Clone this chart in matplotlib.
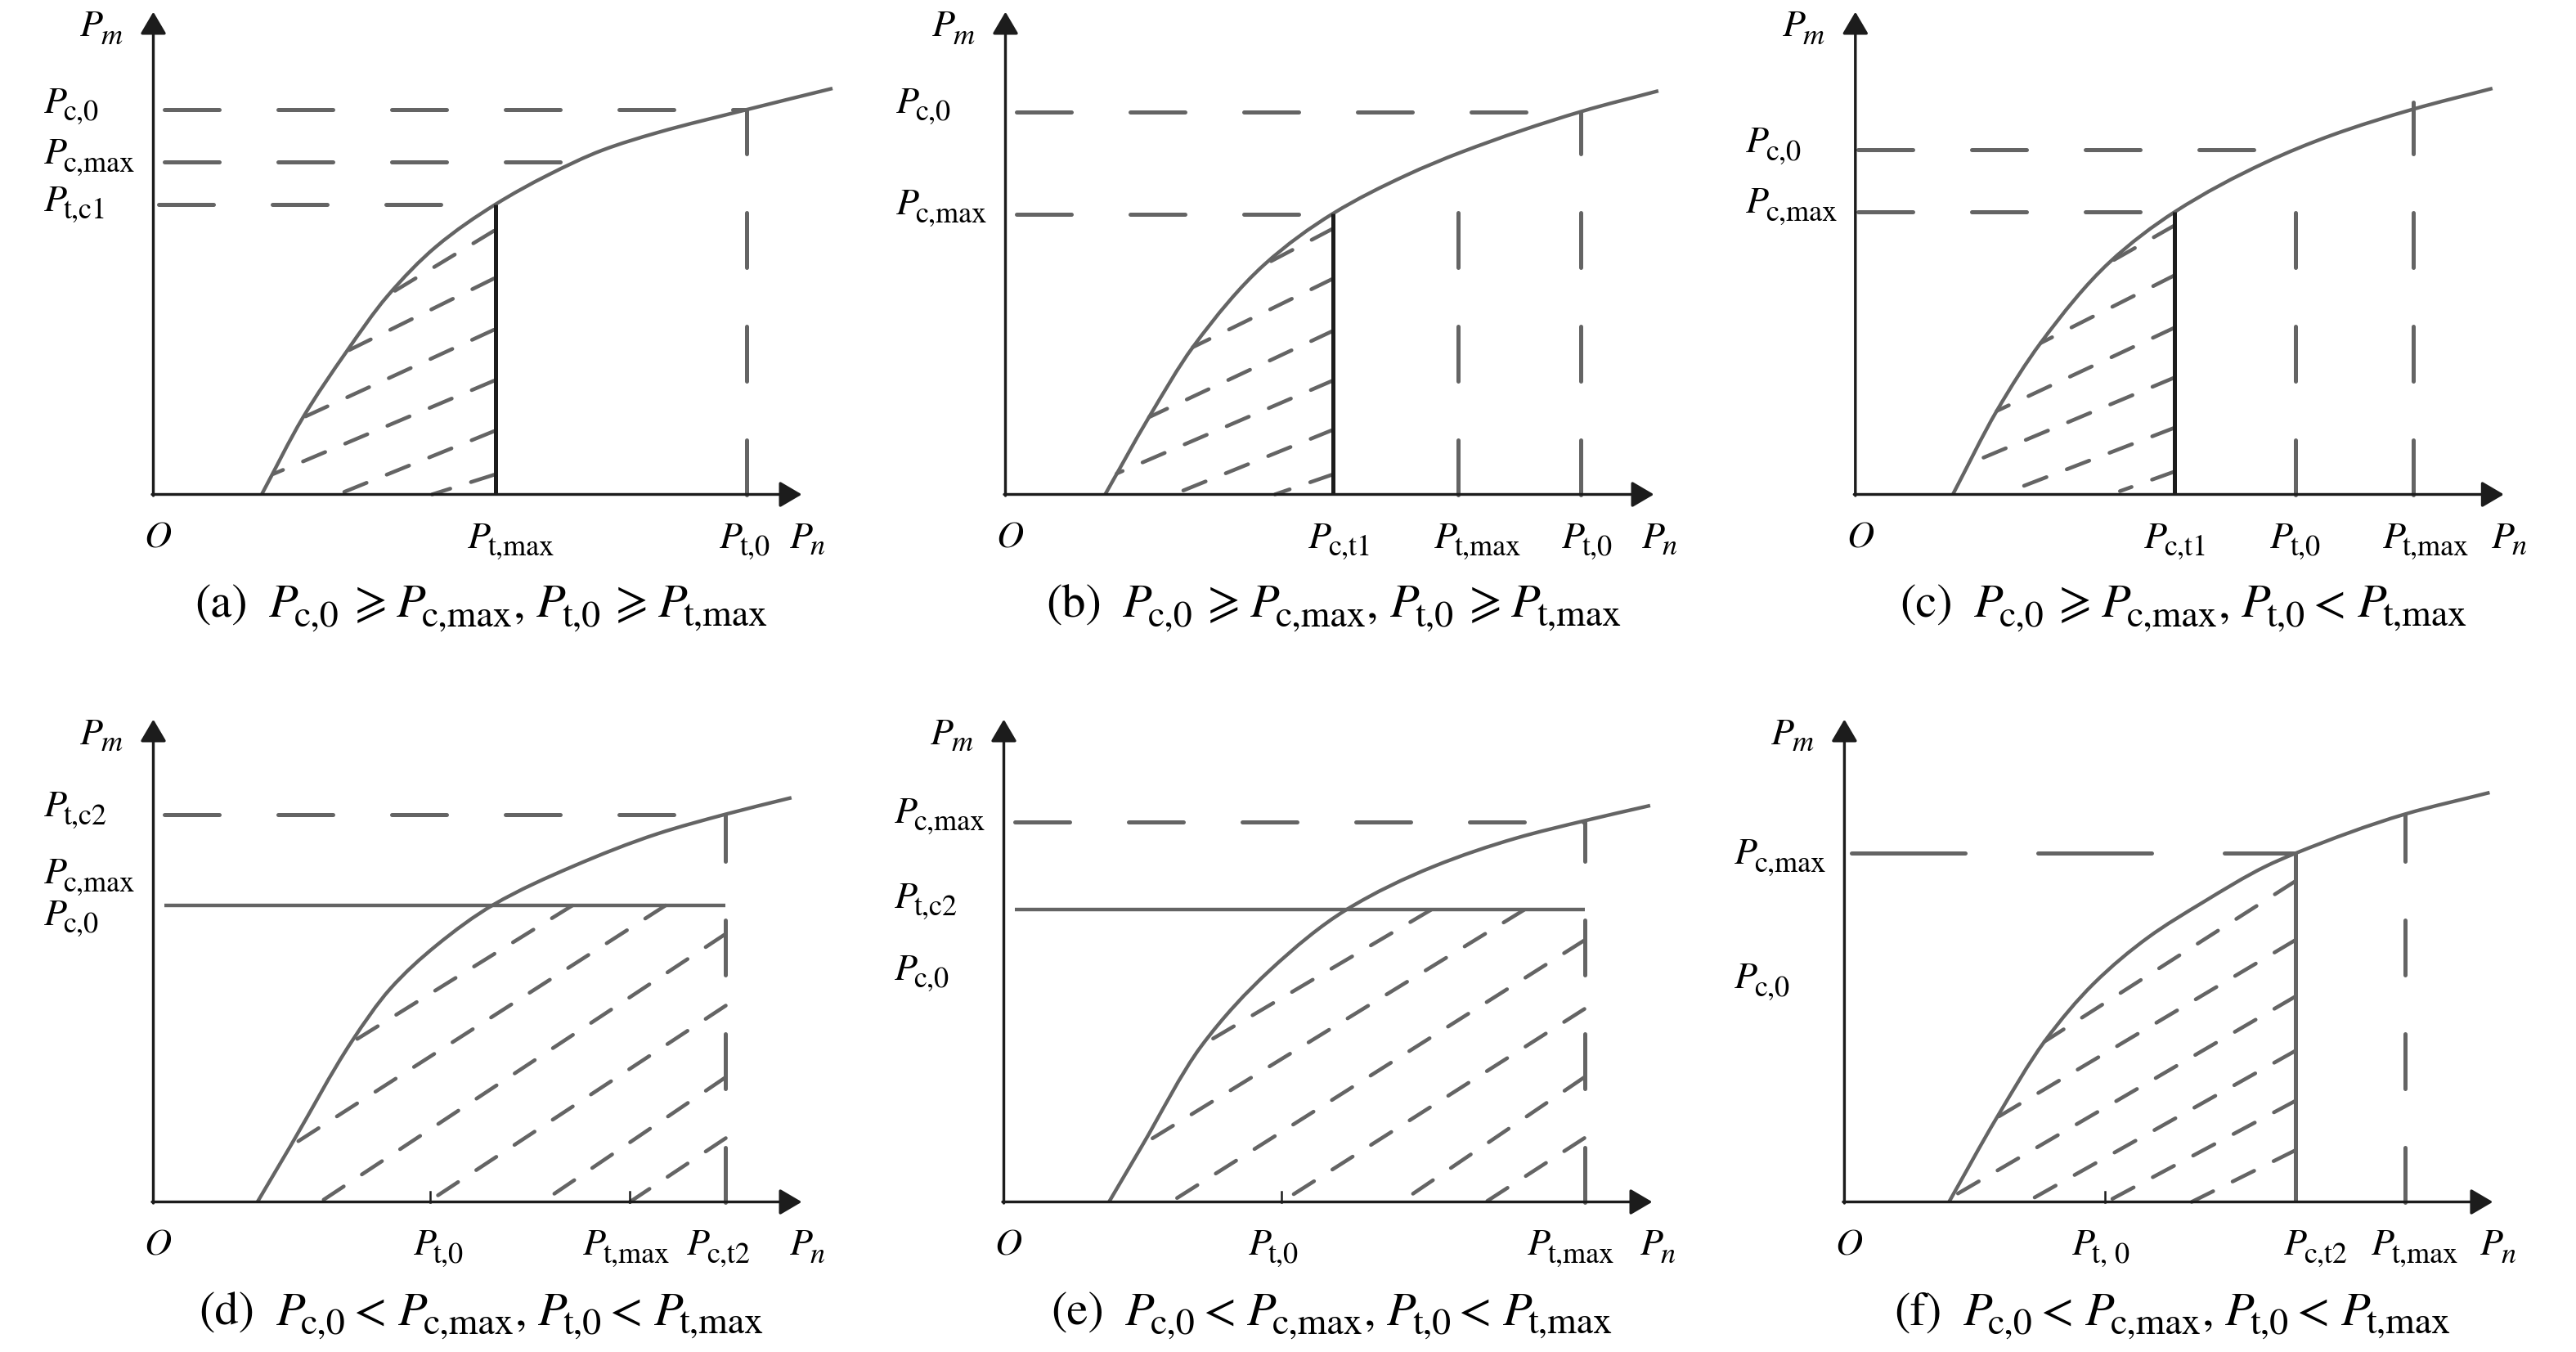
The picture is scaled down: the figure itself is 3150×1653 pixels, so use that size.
import matplotlib.pyplot as plt
from matplotlib.path import Path
from matplotlib.patches import PathPatch

plt.rcParams['mathtext.fontset'] = 'stix'
plt.rcParams['font.family'] = 'STIXGeneral'
plt.rcParams['lines.scale_dashes'] = False

# ---------------------------------------------------------------------------
# data read off the picture, in pixels measured from each panel's origin O
# ---------------------------------------------------------------------------
# (a)
curve_a_x = [132.5, 182.5, 235.8, 285.8, 345.8, 418.5, 482.3, 549.2, 616.2, 725.4, 830.5]
curve_a_y = [0, 93.3, 174, 242, 303, 354.7, 390.3, 420.9, 442.3, 470.4, 496.4]
dash_h_a = [(470.4, 13.4, 725.4), (406.6, 13.4, 520), (354.6, 6.7, 418.5)]
dash_v_a = [(725.4, 470.4)]
bound_a = (418.5, 354.7)
hatch_a = [(416.5, 322.3, 286.5, 243.5), (416.5, 264, 236.5, 175), (416.5, 201.3, 183.2, 94),
           (416.5, 139, 146.8, 25), (416.5, 77.3, 225.8, 0), (416.5, 24, 340.8, 0)]
ylab_a = [('c,0', 467), ('c,max', 404), ('t,c1', 347)]
xlab_a = [('t,max', 385), ('t,0', 693)]

# (b)
curve_b_x = [121.9, 175.5, 229.1, 316.1, 400.5, 490.3, 557.3, 703.3, 798.4]
curve_b_y = [0, 94.4, 180, 280.6, 343.4, 390.3, 418.4, 467.9, 493.4]
dash_h_b = [(467.9, 13.4, 703.3), (342.5, 13.4, 400.5)]
dash_v_b = [(553.9, 354.6), (703.3, 467.9)]
bound_b = (400.5, 343.4)
hatch_b = [(400.5, 325, 316.1, 280.6), (400.5, 263.8, 229.1, 180), (400.5, 200, 175.5, 94.4),
           (400.5, 139.3, 136, 25.5), (400.5, 79, 205.6, 0), (400.5, 24.5, 329.5, 0)]
ylab_b = [('c,0', 467), ('c,max', 342)]
xlab_b = [('c,t1', 371), ('t,max', 525), ('t,0', 681)]

# (c)
curve_c_x = [119.2, 172.8, 226.4, 310.1, 390.5, 501, 581.4, 681.8, 779]
curve_c_y = [0, 102, 185, 283.2, 345.4, 405.6, 438.8, 470.9, 496.4]
dash_h_c = [(422, 3, 540), (345.4, 3, 390.5)]
dash_v_c = [(537.8, 357), (681.8, 479.6)]
bound_c = (390.5, 345.4)
hatch_c = [(390.5, 329, 310.1, 283.2), (390.5, 268, 226.4, 185), (390.5, 204, 172.8, 102),
           (390.5, 143, 140, 38), (390.5, 81.6, 199.6, 8), (390.5, 28, 323.5, 4)]
ylab_c = [('c,0', 418), ('c,max', 344)]
xlab_c = [('c,t1', 353.6), ('t,0', 507.7), ('t,max', 645)]

# (d)
curve_d_x = [127.3, 167.5, 242.5, 289.2, 345.8, 415.8, 512.5, 616.2, 699.9, 780.3]
curve_d_y = [0, 68, 196, 260, 313.3, 363.3, 410, 450, 474, 494.2]
dash_h_d = [(474, 13.4, 699.9)]
solid_h_d = [(362.4, 13.4, 699.9)]
dash_v_d = [(699.9, 474)]
hatch_d = [(512.4, 362.4, 242.5, 195), (626.3, 362.4, 167.5, 68), (700, 327.8, 204.2, 0),
           (700, 240, 335.8, 0), (700, 152.5, 475.6, 0), (700, 78, 582.7, 0)]
ticks_d = [338, 582.7]
ylab_d = [('t,c2', 471), ('c,max', 389), ('c,0', 338.5)]
xlab_d = [('t,0', 318), ('t,max', 525.8), ('c,t2', 653)]

# (e)
curve_e_x = [128.6, 167.5, 241.1, 324.8, 418.6, 525.8, 626.3, 710, 790.4]
curve_e_y = [0, 66, 190, 282.7, 357.1, 410.2, 444.7, 466, 484.6]
dash_h_e = [(464.4, 13.4, 710)]
solid_h_e = [(357.1, 13.4, 710)]
dash_v_e = [(710, 466)]
hatch_e = [(522.4, 357.1, 244.5, 193), (636.3, 357.1, 170.8, 71), (710, 319.9, 204.3, 0),
           (710, 235.9, 339.6, 0), (710, 152.5, 485.6, 0), (710, 78.1, 589.4, 0)]
ticks_e = [339.6]
ylab_e = [('c,max', 464), ('t,c2', 360), ('c,0', 272)]
xlab_e = [('t,0', 299.4), ('t,max', 641)]

# (f)
curve_f_x = [127.9, 186.3, 244.6, 304.6, 371.3, 437.9, 514.6, 551.2, 685.2, 789]
curve_f_y = [0, 103, 196, 266.7, 323.3, 366, 410, 426.1, 474, 500.5]
long_h_f = [(426.7, 8.7, 551.2)]
dash_v_f = [(685.2, 474)]
bound_f = (551.2, 426.1)
hatch_f = [(551.2, 392, 244.6, 196), (551.2, 320, 188, 104), (551.2, 251, 131.5, 6),
           (551.2, 184.6, 222.9, 0), (551.2, 123.4, 320.6, 0), (551.2, 63, 424.6, 0)]
ticks_f = [318.6]
ylab_f = [('c,max', 413), ('c,0', 261)]
xlab_f = [('t, 0', 278.6), ('c,t2', 537.8), ('t,max', 645)]

cap_letters = ['(a)', '(b)', '(c)', '(d)', '(e)', '(f)']
cap_rel1 = ['ge', 'ge', 'ge', 'lt', 'lt', 'lt']
cap_rel2 = ['ge', 'ge', 'lt', 'lt', 'lt', 'lt']

# ---------------------------------------------------------------------------
# layout / style
# ---------------------------------------------------------------------------
W, H, DPI = 3150, 1653, 100
origins = [(187.5, 604.5), (1229.5, 604.5), (2268.8, 604.5),
           (187.5, 1469.5), (1227.5, 1469.5), (2255.4, 1469.5)]
XTIP, YTIP = 793, 590          # arrow tips
PN_X = 778
O_X = -11
PM_X, PM_Y = -89, 560
YLAB_X = -134
XLAB_Y = -65
CAP_X, CAP_Y = 401, -150

GRAY = '#646464'
BLACK = '#1c1c1c'


def pt(v):
    # pixel length -> points
    return v * 72.0 / DPI


LW_AX = pt(3.4)
LW_CURVE = pt(4.4)
LW_REF = pt(5.0)
LW_HATCH = pt(4.6)
DASH = (0, (pt(67), pt(72)))
DASH_LONG = (0, (pt(139), pt(89)))
DASH_HATCH = (0, (pt(29.5), pt(26.5)))

FS_LAB, FS_LAB_SUB, LAB_DROP = 33, 26, 9
FS_CAP, FS_CAP_SUB, CAP_DROP = 42, 33, 11

fig = plt.figure(figsize=(W / DPI, H / DPI), dpi=DPI)
renderer = fig.canvas.get_renderer()


def chain(ax, x, y, pieces, center=False):
    # pieces: (text, size, style, drop, gap_after)
    texts = []
    cur = x
    for s, size, style, drop, gap in pieces:
        t = ax.text(cur, y - drop, s, fontsize=size, style=style, ha='left', va='baseline')
        w = t.get_window_extent(renderer).width
        texts.append((t, cur))
        cur += w + gap
    if center:
        shift = -(cur - x) / 2.0
        for t, x0 in texts:
            t.set_x(x0 + shift)


def plabel(ax, x, y, sub, sub_style='normal'):
    chain(ax, x, y, [('P', FS_LAB, 'italic', 0, -4),
                     (sub, FS_LAB_SUB, sub_style, LAB_DROP, 0)])


def caption(ax, letter, r1, r2):
    rel = {'ge': r'$\geqslant$', 'lt': '<'}
    P = ('P', FS_CAP, 'italic', 0, -5)
    pieces = [(letter, FS_CAP, 'normal', 0, 26),
              P, ('c,0', FS_CAP_SUB, 'normal', CAP_DROP, 10),
              (rel[r1], FS_CAP, 'normal', 0, 14),
              P, ('c,max', FS_CAP_SUB, 'normal', CAP_DROP, 1),
              (',', FS_CAP, 'normal', 0, 14),
              P, ('t,0', FS_CAP_SUB, 'normal', CAP_DROP, 10),
              (rel[r2], FS_CAP, 'normal', 0, 14),
              P, ('t,max', FS_CAP_SUB, 'normal', CAP_DROP, 0)]
    chain(ax, CAP_X, CAP_Y, pieces, center=True)


def smooth_path(xs, ys):
    # shape-preserving cubic (Fritsch-Carlson tangents) through the read points
    n = len(xs)
    h = [xs[i + 1] - xs[i] for i in range(n - 1)]
    d = [(ys[i + 1] - ys[i]) / h[i] for i in range(n - 1)]
    m = [d[0]] + [0.0] * (n - 2) + [d[-1]]
    for i in range(1, n - 1):
        if d[i - 1] * d[i] > 0:
            w1 = 2 * h[i] + h[i - 1]
            w2 = h[i] + 2 * h[i - 1]
            m[i] = (w1 + w2) / (w1 / d[i - 1] + w2 / d[i])
    verts = [(xs[0], ys[0])]
    codes = [Path.MOVETO]
    for i in range(n - 1):
        verts += [(xs[i] + h[i] / 3, ys[i] + m[i] * h[i] / 3),
                  (xs[i + 1] - h[i] / 3, ys[i + 1] - m[i + 1] * h[i] / 3),
                  (xs[i + 1], ys[i + 1])]
        codes += [Path.CURVE4] * 3
    return Path(verts, codes)


panels = [
    dict(cx=curve_a_x, cy=curve_a_y, dh=dash_h_a, dv=dash_v_a, bound=bound_a, bcol=BLACK,
         hatch=hatch_a, yl=ylab_a, xl=xlab_a),
    dict(cx=curve_b_x, cy=curve_b_y, dh=dash_h_b, dv=dash_v_b, bound=bound_b, bcol=BLACK,
         hatch=hatch_b, yl=ylab_b, xl=xlab_b),
    dict(cx=curve_c_x, cy=curve_c_y, dh=dash_h_c, dv=dash_v_c, bound=bound_c, bcol=BLACK,
         hatch=hatch_c, yl=ylab_c, xl=xlab_c),
    dict(cx=curve_d_x, cy=curve_d_y, dh=dash_h_d, sh=solid_h_d, dv=dash_v_d,
         hatch=hatch_d, ticks=ticks_d, yl=ylab_d, xl=xlab_d),
    dict(cx=curve_e_x, cy=curve_e_y, dh=dash_h_e, sh=solid_h_e, dv=dash_v_e,
         hatch=hatch_e, ticks=ticks_e, yl=ylab_e, xl=xlab_e),
    dict(cx=curve_f_x, cy=curve_f_y, lh=long_h_f, dv=dash_v_f, bound=bound_f, bcol=GRAY,
         hatch=hatch_f, ticks=ticks_f, yl=ylab_f, xl=xlab_f),
]

for i, ((ox, oy), p) in enumerate(zip(origins, panels)):
    ax = fig.add_axes([0, 0, 1, 1])
    ax.axis('off')
    ax.patch.set_alpha(0)
    ax.set_xlim(-ox, W - ox)
    ax.set_ylim(-(H - oy), oy)
    ax.set_autoscale_on(False)

    # axes with arrows
    head = '-|>,head_length=0.85,head_width=0.5'
    ax.annotate('', xy=(XTIP, 0), xytext=(-1.5, 0),
                arrowprops=dict(arrowstyle=head, lw=LW_AX, color=BLACK,
                                shrinkA=0, shrinkB=0, mutation_scale=pt(27)))
    ax.annotate('', xy=(0, YTIP), xytext=(0, -1.5),
                arrowprops=dict(arrowstyle=head, lw=LW_AX, color=BLACK,
                                shrinkA=0, shrinkB=0, mutation_scale=pt(27)))

    # hatching
    for xr, yr, xl, yl in p['hatch']:
        ax.plot([xr, xl], [yr, yl], color=GRAY, lw=LW_HATCH, linestyle=DASH_HATCH,
                dash_capstyle='round')

    # reference lines
    for y, x0, x1 in p.get('dh', []):
        ax.plot([x0, x1], [y, y], color=GRAY, lw=LW_REF, linestyle=DASH, dash_capstyle='round')
    for y, x0, x1 in p.get('lh', []):
        ax.plot([x0, x1], [y, y], color=GRAY, lw=LW_REF, linestyle=DASH_LONG,
                dash_capstyle='round')
    for y, x0, x1 in p.get('sh', []):
        ax.plot([x0, x1], [y, y], color=GRAY, lw=LW_CURVE, solid_capstyle='butt')
    for x, y1 in p.get('dv', []):
        ax.plot([x, x], [0, y1], color=GRAY, lw=LW_REF, linestyle=DASH, dash_capstyle='round')
    if 'bound' in p:
        bx, by = p['bound']
        ax.plot([bx, bx], [0, by], color=p['bcol'], lw=LW_REF, solid_capstyle='butt')
    for x in p.get('ticks', []):
        ax.plot([x, x], [0, 13], color=BLACK, lw=pt(2.5))

    # curve
    ax.add_patch(PathPatch(smooth_path(p['cx'], p['cy']), fill=False, ec=GRAY,
                           lw=LW_CURVE, joinstyle='round', capstyle='butt'))

    # labels
    chain(ax, PM_X, PM_Y, [('P', FS_LAB, 'italic', 0, -3), ('m', FS_LAB_SUB, 'italic', LAB_DROP, 0)])
    chain(ax, O_X, XLAB_Y, [('O', FS_LAB, 'italic', 0, 0)])
    chain(ax, PN_X, XLAB_Y, [('P', FS_LAB, 'italic', 0, -3), ('n', FS_LAB_SUB, 'italic', LAB_DROP, 0)])
    for s, y in p['yl']:
        plabel(ax, YLAB_X, y, s)
    for s, x in p['xl']:
        plabel(ax, x, XLAB_Y, s)
    caption(ax, cap_letters[i], cap_rel1[i], cap_rel2[i])

fig.savefig('out.png', dpi=DPI, facecolor='white')
